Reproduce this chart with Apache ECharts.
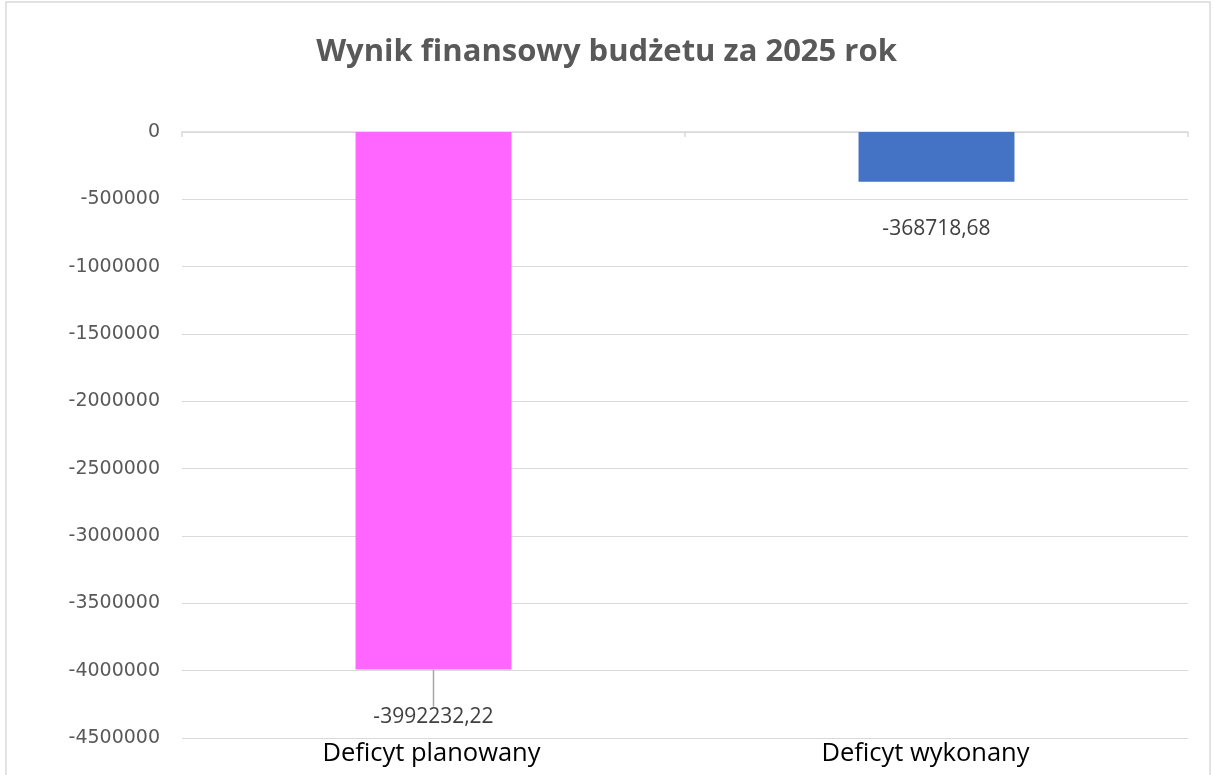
<!DOCTYPE html>
<html>
<head>
<meta charset="utf-8">
<script src="https://cdn.jsdelivr.net/npm/echarts@6/dist/echarts.min.js"></script>
<style>html,body{margin:0;padding:0;background:#fff}#c{width:1213px;height:775px}</style>
</head>
<body>
<div id="c"></div>
<script>
const titleText = 'Wynik finansowy budżetu za 2025 rok';
const categories = ['Deficyt planowany', 'Deficyt wykonany'];
const values = [-3992232.22, -368718.68];
const barColors = ['#FF66FF', '#4472C4'];
const yMin = -4500000, yMax = 0, yStep = 500000;

const chart = echarts.init(document.getElementById('c'));
const fmt = v => String(v).replace('.', ',');
chart.setOption({
  backgroundColor: '#fff',
  animation: false,
  title: {
    text: titleText, left: 'center', top: 32,
    textStyle: {fontFamily: 'Open Sans', fontSize: 31, fontWeight: 'bold', color: '#595959'}
  },
  graphic: [{type: 'rect', shape: {x: 6, y: 2, width: 1204, height: 790},
    style: {fill: 'none', stroke: '#d9d9d9', lineWidth: 1.5}, silent: true}],
  grid: {left: 182, right: 25, top: 132, bottom: 37},
  xAxis: [{
    type: 'category', position: 'bottom',
    data: categories.map((c, i) => ({value: c, textStyle: {padding: i === 1 ? [0, 22, 0, 0] : [0, 4, 0, 0]}})),
    axisLine: {show: false}, axisTick: {show: false},
    axisLabel: {fontFamily: 'Open Sans', fontSize: 25.5, color: '#000', margin: 3}
  }, {
    type: 'category', data: categories, position: 'top',
    axisLine: {show: true, lineStyle: {color: '#d9d9d9', width: 1.5}},
    axisTick: {show: true, inside: true, length: 5, lineStyle: {color: '#d9d9d9', width: 1.5}},
    axisLabel: {show: false}
  }],
  yAxis: {
    type: 'value', min: yMin, max: yMax, interval: yStep,
    axisLine: {show: false}, axisTick: {show: false},
    splitLine: {lineStyle: {color: '#d9d9d9', width: 1.2}},
    axisLabel: {fontFamily: 'DejaVu Sans', fontSize: 19, color: '#595959', margin: 22,
      formatter: v => String(v)}
  },
  series: [{
    type: 'bar', xAxisIndex: 0, barWidth: '31%',
    data: values.map((v, i) => ({
      value: v, itemStyle: {color: barColors[i]},
      labelLine: {show: i === 0, lineStyle: {color: '#a6a6a6', width: 1.5}, length2: 0}
    })),
    label: {
      show: true, position: 'bottom', distance: 2,
      fontFamily: 'Open Sans', fontSize: 21, color: '#404040',
      formatter: p => fmt(p.value)
    },
    labelLayout: {dy: 35},
    labelLine: {show: true, lineStyle: {color: '#a6a6a6', width: 1.5}}
  }]
});
</script>
</body>
</html>
